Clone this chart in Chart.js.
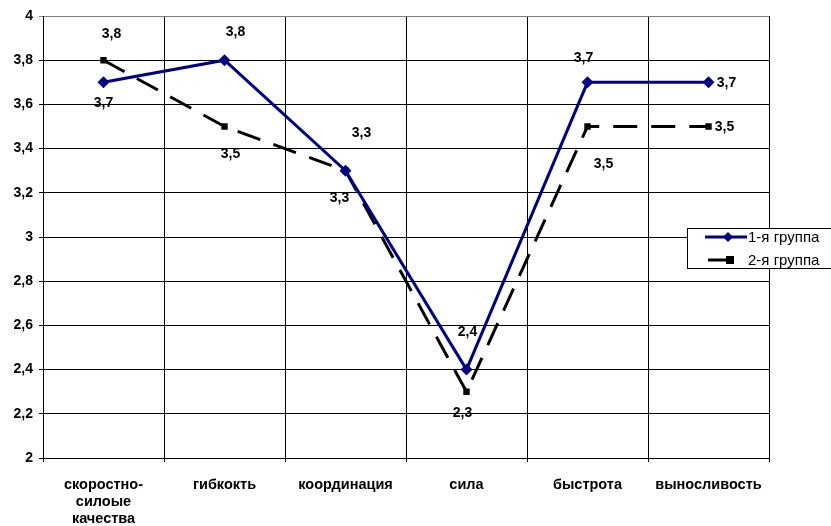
<!DOCTYPE html>
<html>
<head>
<meta charset="utf-8">
<script src="https://cdn.jsdelivr.net/npm/chart.js@4/dist/chart.umd.min.js"></script>
<style>
  html, body { margin: 0; padding: 0; background: #fff; }
  #wrap { width: 831px; height: 526px; position: relative; }
</style>
</head>
<body>
<div id="wrap"><canvas id="c" width="831" height="526"></canvas></div>
<script>
// Categories (physical qualities) and group scores
const categories = [
  ['скоростно-', 'силоые', 'качества'],
  'гибкокть',
  'координация',
  'сила',
  'быстрота',
  'выносливость'
];
const group1 = [3.7, 3.8, 3.3, 2.4, 3.7, 3.7];
const group2 = [3.8, 3.5, 3.3, 2.3, 3.5, 3.5];
const seriesNames = ['1-я группа', '2-я группа'];
const yTickLabels = ['2', '2,2', '2,4', '2,6', '2,8', '3', '3,2', '3,4', '3,6', '3,8', '4'];

// Where each value label sits relative to its point (px)
const labelOffsets = [
  [[0, 21], [11, -28], [16, -38], [1, -37], [-4, -24], [18, 1]],
  [[8, -26], [6, 28], [-6, 27], [-4, 21], [16, 38], [16, 1]]
];

const FONT = 'Liberation Sans, Arial, sans-serif';
const fmt = v => String(v).replace('.', ',');

const valueLabels = {
  id: 'valueLabels',
  afterDatasetsDraw(chart) {
    const ctx = chart.ctx;
    ctx.save();
    ctx.font = 'bold 14px ' + FONT;
    ctx.fillStyle = '#000';
    ctx.textAlign = 'center';
    ctx.textBaseline = 'middle';
    chart.data.datasets.forEach((ds, di) => {
      const meta = chart.getDatasetMeta(di);
      meta.data.forEach((pt, i) => {
        const off = labelOffsets[di][i];
        ctx.fillText(fmt(ds.data[i]), pt.x + off[0], pt.y + off[1]);
      });
    });
    ctx.restore();
  }
};

const boxLegend = {
  id: 'boxLegend',
  afterDraw(chart) {
    const ctx = chart.ctx;
    const x = 687.5, y = 228.5, w = 200, h = 40;
    ctx.save();
    ctx.fillStyle = '#fff';
    ctx.fillRect(x, y, w, h);
    ctx.strokeStyle = '#000';
    ctx.lineWidth = 1;
    ctx.strokeRect(x, y, w, h);
    ctx.font = '15px ' + FONT;
    ctx.textBaseline = 'middle';
    ctx.textAlign = 'left';
    const ds = chart.data.datasets;
    // first entry: blue line with diamond
    let ly = 237;
    ctx.strokeStyle = ds[0].borderColor;
    ctx.lineWidth = 3;
    ctx.beginPath(); ctx.moveTo(705, ly); ctx.lineTo(747, ly); ctx.stroke();
    ctx.fillStyle = ds[0].borderColor;
    ctx.beginPath();
    ctx.moveTo(728, ly - 5); ctx.lineTo(733, ly); ctx.lineTo(728, ly + 5); ctx.lineTo(723, ly);
    ctx.closePath(); ctx.fill();
    ctx.fillStyle = '#000';
    ctx.fillText(ds[0].label, 748, ly + 1);
    // second entry: black line with square
    ly = 260;
    ctx.strokeStyle = '#000';
    ctx.beginPath(); ctx.moveTo(708, ly); ctx.lineTo(728, ly); ctx.stroke();
    ctx.fillStyle = '#000';
    ctx.fillRect(726, ly - 4, 8, 8);
    ctx.fillText(ds[1].label, 748, ly + 1);
    ctx.restore();
  }
};

new Chart(document.getElementById('c'), {
  type: 'line',
  data: {
    labels: categories,
    datasets: [
      {
        label: seriesNames[0],
        data: group1,
        borderColor: '#000080',
        backgroundColor: '#000080',
        borderWidth: 3,
        pointStyle: 'rectRot',
        pointRadius: 6,
        pointHoverRadius: 6,
        pointBorderWidth: 0,
        tension: 0,
        fill: false
      },
      {
        label: seriesNames[1],
        data: group2,
        borderColor: '#000',
        backgroundColor: '#000',
        borderWidth: 3,
        borderDash: [24, 14],
        pointStyle: 'rect',
        pointRadius: 4.5,
        pointHoverRadius: 4.5,
        pointBorderWidth: 0,
        tension: 0,
        fill: false
      }
    ]
  },
  options: {
    responsive: false,
    animation: false,
    events: [],
    layout: { padding: { top: 16, right: 62, left: 0, bottom: 0 } },
    plugins: { legend: { display: false }, tooltip: { enabled: false } },
    scales: {
      x: {
        offset: true,
        grid: {
          offset: true,
          color: ctx => (ctx.index === categories.length ? '#808080' : '#000'),
          lineWidth: 1,
          tickLength: 4,
          drawTicks: true
        },
        border: { color: '#000', width: 1 },
        ticks: {
          color: '#000',
          font: { family: FONT, size: 14.5, weight: 'bold', lineHeight: 1.18 },
          padding: 14,
          maxRotation: 0,
          autoSkip: false
        },
        afterFit(axis) { axis.height = 68; }
      },
      y: {
        min: 2,
        max: 4,
        grid: {
          color: ctx => (ctx.tick && ctx.tick.value === 4 ? '#808080' : '#000'),
          lineWidth: 1,
          tickLength: 4
        },
        border: { color: '#000', width: 1 },
        ticks: {
          stepSize: 0.2,
          color: '#000',
          font: { family: FONT, size: 14, weight: 'bold' },
          padding: 6,
          callback: (v, i) => yTickLabels[i]
        },
        afterFit(axis) { axis.width = 43; }
      }
    }
  },
  plugins: [valueLabels, boxLegend]
});
</script>
</body>
</html>
